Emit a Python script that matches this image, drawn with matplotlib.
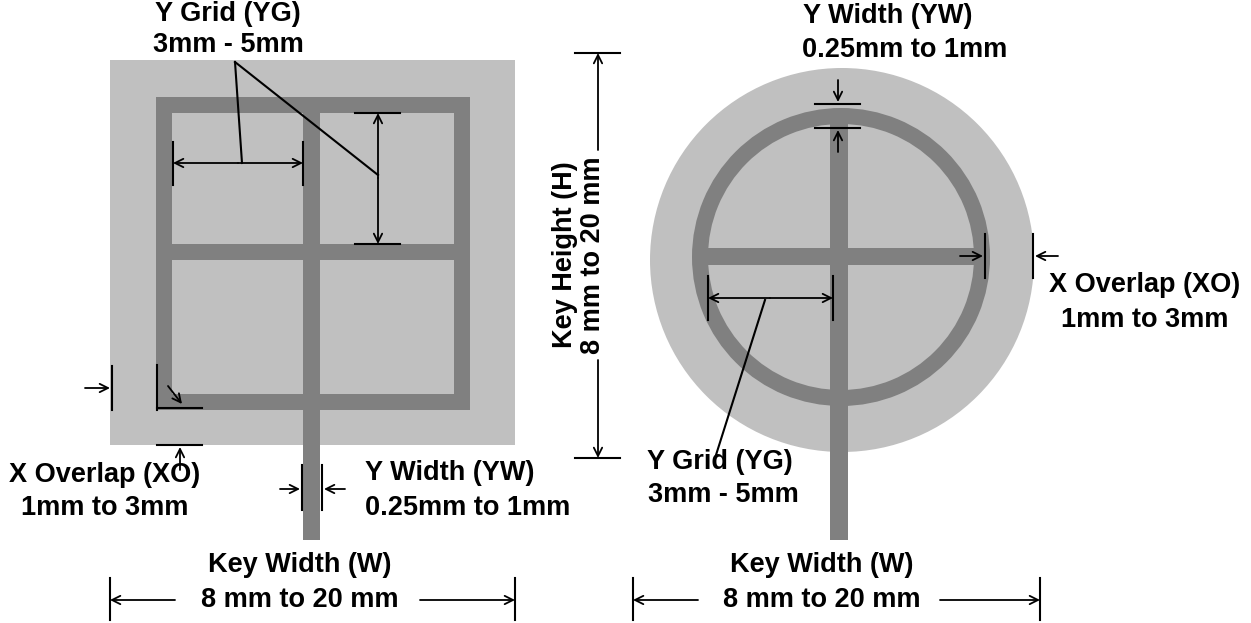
import matplotlib
matplotlib.use("Agg")
import matplotlib.pyplot as plt
from matplotlib.patches import Rectangle, Circle, Wedge

LIGHT = "#c0c0c0"
DARK = "#808080"

# shapes, in picture pixels (x0, y0, x1, y1)
light_rect = (110, 60, 515, 445)
dark_bars_left = [(156, 97, 470, 113), (156, 394, 470, 410), (156, 97, 172, 410),
                  (454, 97, 470, 410), (156, 244, 470, 260), (303, 97, 320, 540)]
light_circle = (842, 260, 192)
ring = (841, 257, 149, 16)
dark_bars_right = [(830, 110, 848, 540), (695, 248, 985, 265)]

# black lines
plain_lines = [
    ((235, 62), (242, 163)), ((235, 62), (378, 175)),
    ((173, 142), (173, 185)), ((303, 142), (303, 185)),
    ((355, 113), (400, 113)), ((355, 244), (400, 244)),
    ((112, 366), (112, 410)), ((157, 365), (157, 410)), ((157, 408), (202, 408)),
    ((157, 445), (202, 445)),
    ((302, 465), (302, 510)), ((322, 465), (322, 510)),
    ((110, 578), (110, 620)), ((515, 578), (515, 620)),
    ((575, 53), (620, 53)), ((575, 458), (620, 458)),
    ((815, 104), (860, 104)), ((815, 128), (860, 128)),
    ((985, 234), (985, 278)), ((1033, 234), (1033, 278)),
    ((708, 276), (708, 320)), ((833, 276), (833, 320)),
    ((765, 300), (716, 455)),
    ((633, 578), (633, 620)), ((1040, 578), (1040, 620)),
]
arrows = [
    ((238, 163), (173, 163)), ((238, 163), (303, 163)),
    ((378, 178), (378, 113)), ((378, 178), (378, 244)),
    ((85, 388), (110, 388)), ((168, 386), (182, 404)), ((180, 470), (180, 447)),
    ((280, 489), (300, 489)), ((345, 489), (324, 489)),
    ((175, 600), (110, 600)), ((420, 600), (515, 600)),
    ((598, 150), (598, 53)), ((598, 360), (598, 458)),
    ((838, 80), (838, 102)), ((838, 152), (838, 130)),
    ((960, 256), (983, 256)), ((1058, 256), (1035, 256)),
    ((770, 298), (708, 298)), ((770, 298), (833, 298)),
    ((698, 600), (633, 600)), ((940, 600), (1040, 600)),
]
labels = [
    (228, 14, "Y Grid (YG)", 0), (228, 45, "3mm - 5mm", 0),
    (105, 475, "X Overlap (XO)", 0), (105, 508, "1mm to 3mm", 0),
    (450, 473, "Y Width (YW)", 0), (468, 508, "0.25mm to 1mm", 0),
    (300, 565, "Key Width (W)", 0), (300, 600, "8 mm to 20 mm", 0),
    (579, 255, "Key Height (H)\n8 mm to 20 mm", 90),
    (888, 16, "Y Width (YW)", 0), (905, 50, "0.25mm to 1mm", 0),
    (1145, 285, "X Overlap (XO)", 0), (1145, 320, "1mm to 3mm", 0),
    (720, 462, "Y Grid (YG)", 0), (723, 495, "3mm - 5mm", 0),
    (822, 565, "Key Width (W)", 0), (822, 600, "8 mm to 20 mm", 0),
]

fig = plt.figure(figsize=(12.51, 6.23), dpi=100)
ax = fig.add_axes([0, 0, 1, 1])
ax.set_xlim(0, 1251)
ax.set_ylim(623, 0)
ax.axis("off")

x0, y0, x1, y1 = light_rect
ax.add_patch(Rectangle((x0, y0), x1 - x0, y1 - y0, color=LIGHT, lw=0))
for x0, y0, x1, y1 in dark_bars_left:
    ax.add_patch(Rectangle((x0, y0), x1 - x0, y1 - y0, color=DARK, lw=0))

cx, cy, r = light_circle
ax.add_patch(Circle((cx, cy), r, color=LIGHT, lw=0))
cx, cy, r, w = ring
ax.add_patch(Wedge((cx, cy), r, 0, 360, width=w, color=DARK, lw=0))
for x0, y0, x1, y1 in dark_bars_right:
    ax.add_patch(Rectangle((x0, y0), x1 - x0, y1 - y0, color=DARK, lw=0))

for (a, b) in plain_lines:
    ax.plot([a[0], b[0]], [a[1], b[1]], color="black", lw=1.5)
for (a, b) in arrows:
    ax.annotate("", xy=b, xytext=a,
                arrowprops=dict(arrowstyle="->,head_length=0.6,head_width=0.3",
                                color="black", lw=1.3, shrinkA=0, shrinkB=0))

for x, y, s, rot in labels:
    ax.text(x, y, s, ha="center", va="center", rotation=rot, fontsize=19.5,
            fontweight="bold", family="Liberation Sans", linespacing=1.15)

fig.savefig("out.png", dpi=100, facecolor="white")
